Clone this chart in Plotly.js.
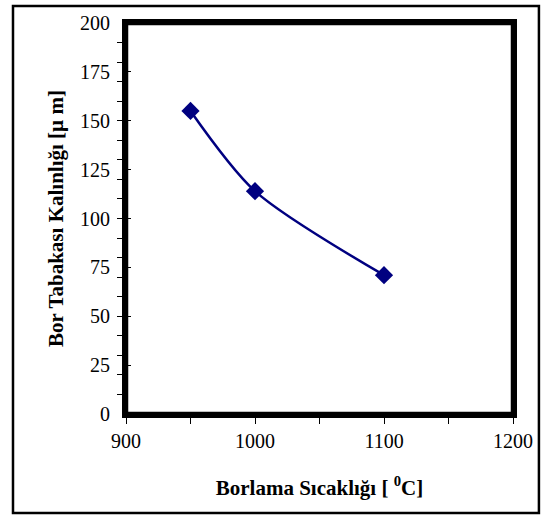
<!DOCTYPE html>
<html>
<head>
<meta charset="utf-8">
<script src="https://cdn.plot.ly/plotly-3.0.1.min.js"></script>
<style>html,body{margin:0;padding:0;background:#fff}</style>
</head>
<body>
<div id="chart" style="width:543px;height:515px"></div>
<script>
const temperatures = [950, 1000, 1100];
const thickness = [155, 114, 71];
const xTitle = 'Borlama Sıcaklığı [ <sup>0</sup>C]';
const yTitle = 'Bor Tabakası Kalınlığı [µ m]';

const navy = '#000080';
const serif = 'Liberation Serif, Times New Roman, serif';

const trace = {
  x: temperatures,
  y: thickness,
  type: 'scatter',
  mode: 'lines+markers',
  line: {color: navy, width: 2.5, shape: 'spline', smoothing: 0.8},
  marker: {symbol: 'diamond', size: 14, color: navy},
  showlegend: false,
  hoverinfo: 'x+y'
};

const layout = {
  width: 543,
  height: 515,
  margin: {l: 126, r: 30, t: 23, b: 101},
  paper_bgcolor: '#fff',
  plot_bgcolor: '#fff',
  font: {family: serif, color: '#000', size: 20},
  xaxis: {
    range: [900, 1200],
    dtick: 100,
    tick0: 900,
    ticks: 'outside',
    ticklen: 6,
    tickwidth: 1,
    tickcolor: '#000',
    minor: {ticks: 'outside', dtick: 50, ticklen: 6, tickwidth: 1, tickcolor: '#000'},
    showline: true,
    linewidth: 4,
    linecolor: '#000',
    mirror: true,
    showgrid: false,
    zeroline: false,
    tickfont: {family: serif, size: 20},
    title: {text: xTitle, font: {family: serif, size: 21, weight: 'bold'}, standoff: 30}
  },
  yaxis: {
    range: [0, 200],
    dtick: 25,
    tick0: 0,
    ticks: 'inside',
    ticklen: 5,
    tickwidth: 1,
    tickcolor: '#000',
    minor: {ticks: 'outside', dtick: 10, ticklen: 5, tickwidth: 1, tickcolor: '#000'},
    showline: true,
    linewidth: 4,
    linecolor: '#000',
    mirror: true,
    showgrid: false,
    zeroline: false,
    tickfont: {family: serif, size: 20},
    ticklabelstandoff: 8,
    title: {text: yTitle, font: {family: serif, size: 21, weight: 'bold'}, standoff: 12}
  },
  shapes: [{
    type: 'rect', xref: 'paper', yref: 'paper',
    x0: 0, x1: 1, y0: 0, y1: 1,
    line: {color: '#000', width: 4.5}
  }, {
    type: 'rect', xref: 'paper', yref: 'paper',
    x0: -0.292, x1: 1.067, y0: -0.253, y1: 1.0435,
    line: {color: '#000', width: 2.5}
  }]
};

Plotly.newPlot('chart', [trace], layout, {displayModeBar: false, staticPlot: true});
</script>
</body>
</html>
